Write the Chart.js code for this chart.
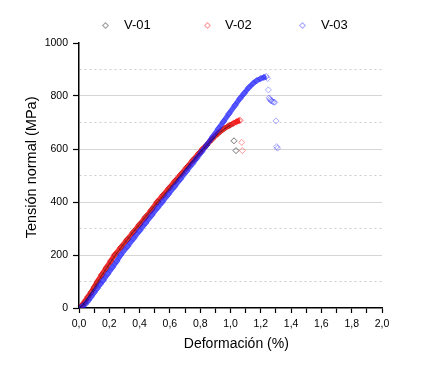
<!DOCTYPE html>
<html>
<head>
<meta charset="utf-8">
<script src="https://cdn.jsdelivr.net/npm/chart.js@4.4.1/dist/chart.umd.min.js"></script>
<style>
  html, body { margin: 0; padding: 0; background: #fff; }
  #wrap { position: relative; width: 444px; height: 370px; }
  #chart { position: absolute; left: 0; top: 0; }
  .lg { position: absolute; top: 17px; font: 13px "Liberation Sans", Arial, sans-serif; color: #000; line-height: 16px; }
  .lg i { position: absolute; top: 6px; width: 3px; height: 3px; border: 1px solid; transform: rotate(45deg); }
</style>
</head>
<body>
<div id="wrap">
  <canvas id="chart" width="444" height="370"></canvas>
  <div class="lg" style="left:124px"><i style="left:-21px;border-color:rgba(0,0,0,0.4)"></i>V-01</div>
  <div class="lg" style="left:225px"><i style="left:-20px;border-color:rgba(255,0,0,0.4)"></i>V-02</div>
  <div class="lg" style="left:321px"><i style="left:-21px;border-color:rgba(0,0,255,0.35)"></i>V-03</div>
</div>
<script>
// deformación (%) / tensión (MPa)
const v01Strain = [0, 0.02, 0.04, 0.06, 0.08, 0.10, 0.12, 0.15, 0.18, 0.21, 0.24, 0.28, 0.32, 0.36, 0.40, 0.44, 0.48, 0.52, 0.56, 0.60, 0.64, 0.68, 0.72, 0.76, 0.80, 0.84, 0.88, 0.92, 0.95, 0.98, 1.00];
const v01Stress = [0, 9, 23, 40, 58, 76, 95, 122, 148, 174, 200, 230, 259, 288, 316, 345, 373, 400, 427, 454, 481, 508, 535, 561, 588, 612, 636, 658, 672, 684, 690];
const v01TailStrain = [1.023, 1.036];
const v01TailStress = [631, 594];

const v02Strain = [0, 0.01, 0.02, 0.03, 0.045, 0.06, 0.08, 0.10, 0.12, 0.15, 0.18, 0.21, 0.235, 0.275, 0.315, 0.355, 0.395, 0.435, 0.475, 0.515, 0.55, 0.59, 0.63, 0.67, 0.71, 0.75, 0.79, 0.815, 0.843, 0.87, 0.90, 0.93, 0.96, 0.99, 1.02, 1.04, 1.055, 1.063];
const v02Stress = [0, 4, 10, 18, 30, 43, 60, 79, 99, 126, 152, 178, 200, 228, 256, 284, 312, 340, 368, 400, 423, 450, 477, 503, 530, 557, 583, 600, 615, 633, 650, 665, 678, 688, 697, 703, 707, 708];
const v02TailStrain = [1.074, 1.078];
const v02TailStress = [625, 594];

const v03Strain = [0, 0.02, 0.04, 0.06, 0.08, 0.10, 0.12, 0.14, 0.16, 0.19, 0.22, 0.25, 0.275, 0.32, 0.36, 0.40, 0.44, 0.48, 0.52, 0.55, 0.59, 0.63, 0.67, 0.71, 0.75, 0.777, 0.81, 0.843, 0.88, 0.92, 0.953, 0.99, 1.03, 1.063, 1.09, 1.12, 1.15, 1.173, 1.20, 1.22, 1.235];
const v03Stress = [0, 5, 14, 27, 42, 58, 74, 90, 105, 129, 153, 177, 200, 232, 262, 292, 321, 350, 379, 400, 429, 458, 487, 516, 545, 565, 590, 615, 645, 677, 703, 733, 765, 791, 810, 831, 848, 858, 866, 870, 873];
const v03TailStrain = [1.245, 1.25, 1.255, 1.26, 1.265, 1.27, 1.278, 1.286, 1.292, 1.30, 1.305, 1.31];
const v03TailStress = [866, 823, 793, 788, 784, 781, 779, 777, 776, 706, 609, 603];

const xTicks = [0, 0.2, 0.4, 0.6, 0.8, 1.0, 1.2, 1.4, 1.6, 1.8, 2.0];
const yTicks = [0, 200, 400, 600, 800, 1000];

const pts = (xs, ys) => xs.map((x, i) => ({ x, y: ys[i] }));

function curve(xs, ys, line, width, mark, order) {
  return {
    data: pts(xs, ys), showLine: true, borderColor: line, borderWidth: width,
    pointStyle: 'rectRot', pointRadius: 3.2, pointBorderWidth: 1,
    pointBorderColor: mark, pointBackgroundColor: 'rgba(0,0,0,0)', order
  };
}
function tail(xs, ys, mark, order) {
  return {
    data: pts(xs, ys), showLine: false,
    pointStyle: 'rectRot', pointRadius: 3, pointBorderWidth: 1,
    pointBorderColor: mark, pointBackgroundColor: 'rgba(0,0,0,0)', order
  };
}

const isMajor = (v, step) => Math.abs(v / step - Math.round(v / step)) < 1e-6;
const font = { family: '"Liberation Sans", Arial, sans-serif', size: 10.5 };

new Chart(document.getElementById('chart'), {
  type: 'scatter',
  data: {
    datasets: [
      curve(v01Strain, v01Stress, 'rgba(0,0,0,0.4)', 1.2, 'rgba(0,0,0,0.2)', -1),
      tail(v01TailStrain, v01TailStress, 'rgba(0,0,0,0.55)', -1),
      curve(v02Strain, v02Stress, 'rgba(240,0,0,0.8)', 5, 'rgba(255,0,0,0.5)', 1),
      tail(v02TailStrain, v02TailStress, 'rgba(255,0,0,0.4)', 1),
      curve(v03Strain, v03Stress, 'rgba(20,20,255,0.72)', 5, 'rgba(40,40,255,0.5)', 0),
      tail(v03TailStrain, v03TailStress, 'rgba(40,40,255,0.4)', 0)
    ]
  },
  options: {
    responsive: false,
    animation: false,
    layout: { padding: { left: 0, right: 62, top: 43, bottom: 0 } },
    plugins: { legend: { display: false }, tooltip: { enabled: false } },
    scales: {
      x: {
        type: 'linear', min: 0, max: 2,
        afterFit: s => { s.height = 62; },
        ticks: {
          stepSize: 0.1, autoSkip: false, maxRotation: 0, padding: 5, color: '#000', font,
          callback: v => xTicks.some(t => Math.abs(t - v) < 1e-6) ? v.toFixed(1).replace('.', ',') : ''
        },
        grid: { drawOnChartArea: false, tickLength: 5, tickColor: '#000', tickWidth: 1.2 },
        border: { color: '#000', width: 1.5 },
        title: {
          display: true, text: '   Deformación (%)', color: '#000',
          font: { family: '"Liberation Sans", Arial, sans-serif', size: 14 },
          padding: { top: 0, bottom: 17 }
        }
      },
      y: {
        type: 'linear', min: 0, max: 1000,
        afterFit: s => { s.width = 79; },
        ticks: {
          stepSize: 100, autoSkip: false, padding: 5, color: '#000', font,
          callback: v => yTicks.includes(v) ? String(v) : ''
        },
        grid: {
          tickLength: 6, tickWidth: 1.2,
          color: c => (c.tick.value === 0 || c.tick.value === 1000) ? 'rgba(0,0,0,0)'
            : isMajor(c.tick.value, 200) ? '#d6d6d6' : '#cccccc',
          tickColor: c => isMajor(c.tick.value, 200) ? '#000' : 'rgba(0,0,0,0)'
        },
        border: {
          color: '#000', width: 1.5,
          dash: c => (c.tick && !isMajor(c.tick.value, 200)) ? [2, 3] : []
        },
        title: {
          display: true, text: '    Tensión normal (MPa)', color: '#000',
          font: { family: '"Liberation Sans", Arial, sans-serif', size: 14.5 },
          padding: { top: 23, bottom: 0 }
        }
      }
    }
  }
});
</script>
</body>
</html>
